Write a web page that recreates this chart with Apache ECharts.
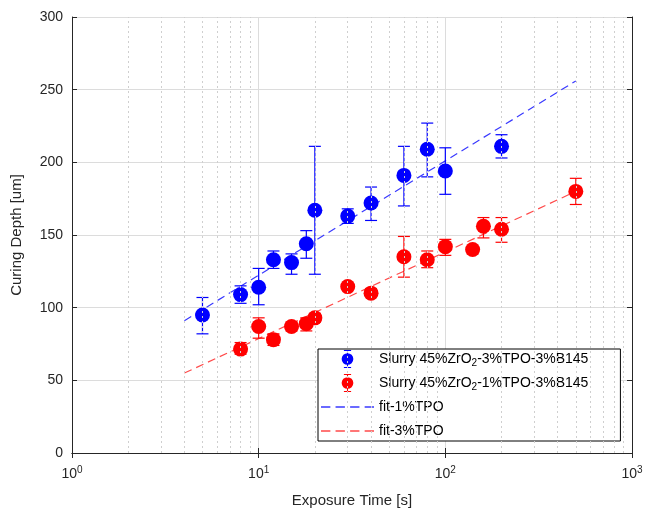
<!DOCTYPE html>
<html>
<head>
<meta charset="utf-8">
<script src="https://cdn.jsdelivr.net/npm/echarts@6/dist/echarts.min.js"></script>
<style>
  html, body { margin: 0; background: #fff; }
  #chart { width: 646px; height: 513px; }
</style>
</head>
<body>
<div id="chart"></div>
<script>
// exposure time [s] and curing depth [um]
const blueX = [5, 8, 10, 12, 15, 18, 20, 30, 40, 60, 80, 100, 200];
const blueY = [95, 109, 114, 133, 131, 144, 167, 163, 172, 191, 209, 194, 211];
const blueLo = [82, 103, 102, 127, 123, 134, 123, 158, 160, 170, 190, 178, 203];
const blueHi = [107, 115, 127, 139, 137, 153, 211, 168, 183, 211, 227, 210, 219];

const redX = [8, 10, 12, 15, 18, 20, 30, 40, 60, 80, 100, 140, 160, 200, 500];
const redY = [71.5, 87, 78, 87, 89, 93, 114.5, 110, 135, 133, 142, 140, 156, 154, 180];
const redLo = [68, 79, 74, 84, 84, 90, 114, 108, 121, 127.5, 136, 137, 148, 145, 171];
const redHi = [76, 93, 82, 90, 93, 96, 115, 113, 149, 139, 147, 142, 162, 162, 189];

const fitX = [4, 500];
const fit1Y = [91, 256];
const fit3Y = [55, 180];

const minorX = [2, 3, 4, 5, 6, 7, 8, 9, 20, 30, 40, 50, 60, 70, 80, 90, 200, 300, 400, 500, 600, 700, 800, 900];

const nameBlue = 'Slurry 45%ZrO2-3%TPO-3%B145';
const nameRed = 'Slurry 45%ZrO2-1%TPO-3%B145';

const FONT = '"Liberation Sans", Arial, sans-serif';
const AX = '#262626';
const BLUE = '#0000ff';
const RED = '#ff0000';

// legend icons: I-beam + circle, and a dashed segment
const errIcon = 'path://M6,0h8v1h-3.4v18h3.4v1h-8v-1h3.4v-18h-3.4z M16.5,10A6.5,6.5 0 1,1 3.5,10A6.5,6.5 0 1,1 16.5,10z';
const dashIcon = 'path://M0,0h9v1.5h-9z M14,0h9v1.5h-9z M28,0h9v1.5h-9z M42,0h9v1.5h-9z';

const errRender = color => (params, api) => {
  const x = api.value(0);
  const lo = api.coord([x, api.value(1)]);
  const hi = api.coord([x, api.value(2)]);
  const w = 6;
  const style = { stroke: color, lineWidth: 1.2 };
  return {
    type: 'group',
    children: [
      { type: 'line', shape: { x1: lo[0], y1: lo[1], x2: hi[0], y2: hi[1] }, style },
      { type: 'line', shape: { x1: lo[0] - w, y1: lo[1], x2: lo[0] + w, y2: lo[1] }, style },
      { type: 'line', shape: { x1: hi[0] - w, y1: hi[1], x2: hi[0] + w, y2: hi[1] }, style }
    ]
  };
};

const chart = echarts.init(document.getElementById('chart'), null, { renderer: 'canvas' });

const supLabel = v => '10{sup|' + Math.round(Math.log10(v)) + '}';

const option = {
  backgroundColor: '#fff',
  animation: false,
  textStyle: { fontFamily: FONT },
  grid: { left: 72, right: 14, top: 17, bottom: 56 },
  legend: {
    orient: 'vertical',
    left: 318,
    top: 349,
    padding: [0, 32, 0, 3],
    itemGap: 4,
    itemWidth: 53,
    itemHeight: 18,
    backgroundColor: '#fff',
    borderColor: '#000',
    borderWidth: 1,
    borderRadius: 0,
    data: [
      { name: nameBlue, icon: errIcon, itemStyle: { color: BLUE } },
      { name: nameRed, icon: errIcon, itemStyle: { color: RED } },
      { name: 'fit-1%TPO', icon: dashIcon, itemStyle: { color: '#3a3aff' } },
      { name: 'fit-3%TPO', icon: dashIcon, itemStyle: { color: '#ff4a4a' } }
    ],
    formatter: n => n.replace('ZrO2', 'ZrO{sub|2}'),
    textStyle: {
      fontSize: 14,
      lineHeight: 20,
      color: '#000',
      fontFamily: FONT,
      rich: {
        sub: { fontSize: 10, lineHeight: 20, padding: [8, 0, 0, 0], fontFamily: FONT, color: '#000' }
      }
    }
  },
  xAxis: [{
    type: 'log',
    logBase: 10,
    min: 1,
    max: 1000,
    name: 'Exposure Time [s]',
    nameLocation: 'middle',
    nameGap: 40,
    nameTextStyle: { fontSize: 15, color: AX, fontFamily: FONT },
    axisLine: { lineStyle: { color: AX } },
    axisTick: { inside: true, length: 5, lineStyle: { color: AX } },
    axisLabel: {
      margin: 12,
      color: AX,
      fontSize: 14,
      fontFamily: FONT,
      formatter: supLabel,
      rich: { sup: { fontSize: 10, padding: [0, 0, 8, 0], color: AX, fontFamily: FONT } }
    },
    splitLine: { show: true, lineStyle: { color: '#dcdcdc' } }
  }, {
    type: 'log',
    logBase: 10,
    min: 1,
    max: 1000,
    position: 'top',
    axisLine: { lineStyle: { color: AX } },
    axisTick: { inside: true, length: 5, lineStyle: { color: AX } },
    axisLabel: { show: false },
    splitLine: { show: false }
  }],
  yAxis: [{
    type: 'value',
    min: 0,
    max: 300,
    interval: 50,
    name: 'Curing Depth [um]',
    nameLocation: 'middle',
    nameGap: 48,
    nameTextStyle: { fontSize: 15, color: AX, fontFamily: FONT },
    axisLine: { show: true, lineStyle: { color: AX } },
    axisTick: { show: true, inside: true, length: 5, lineStyle: { color: AX } },
    axisLabel: { margin: 9, color: AX, fontSize: 14, fontFamily: FONT },
    splitLine: { show: true, lineStyle: { color: '#dcdcdc' } }
  }, {
    type: 'value',
    min: 0,
    max: 300,
    interval: 50,
    position: 'right',
    axisLine: { show: true, lineStyle: { color: AX } },
    axisTick: { show: true, inside: true, length: 5, lineStyle: { color: AX } },
    axisLabel: { show: false },
    splitLine: { show: false }
  }],
  series: [
    {
      name: 'minor',
      type: 'line',
      data: [],
      silent: true,
      z: 0,
      markLine: {
        silent: true,
        symbol: 'none',
        label: { show: false },
        lineStyle: { color: '#cfcfcf', type: [2, 3], width: 1 },
        data: minorX.map(v => ({ xAxis: v }))
      }
    },
    {
      name: 'fit-1%TPO',
      type: 'line',
      data: fitX.map((x, i) => [x, fit1Y[i]]),
      symbol: 'none',
      color: '#3a3aff',
      lineStyle: { color: '#3a3aff', width: 1.2, type: [8, 5] },
      z: 2
    },
    {
      name: 'fit-3%TPO',
      type: 'line',
      data: fitX.map((x, i) => [x, fit3Y[i]]),
      symbol: 'none',
      color: '#ff4a4a',
      lineStyle: { color: '#ff4a4a', width: 1.2, type: [8, 5] },
      z: 2
    },
    {
      name: nameBlue,
      type: 'custom',
      color: BLUE,
      renderItem: errRender(BLUE),
      data: blueX.map((x, i) => [x, blueLo[i], blueHi[i]]),
      encode: { x: 0, y: [1, 2] },
      z: 3
    },
    {
      name: nameRed,
      type: 'custom',
      color: RED,
      renderItem: errRender(RED),
      data: redX.map((x, i) => [x, redLo[i], redHi[i]]),
      encode: { x: 0, y: [1, 2] },
      z: 3
    },
    {
      name: nameBlue,
      type: 'scatter',
      data: blueX.map((x, i) => [x, blueY[i]]),
      symbol: 'circle',
      symbolSize: 15,
      itemStyle: { color: BLUE, opacity: 1 },
      z: 4
    },
    {
      name: nameRed,
      type: 'scatter',
      data: redX.map((x, i) => [x, redY[i]]),
      symbol: 'circle',
      symbolSize: 15,
      itemStyle: { color: RED, opacity: 1 },
      z: 4
    }
  ]
};

chart.setOption(option);
</script>
</body>
</html>
